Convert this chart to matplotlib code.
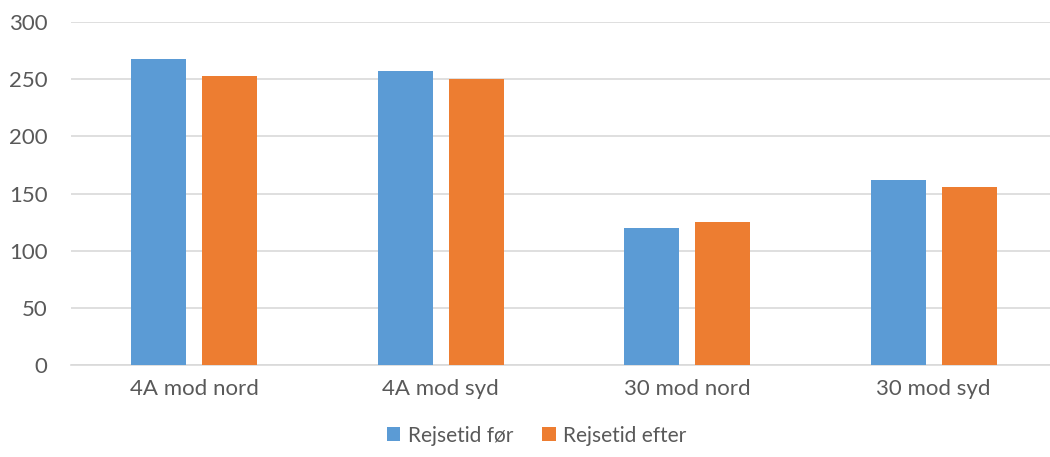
import matplotlib.pyplot as plt
import numpy as np

# Travel times per route, before and after
routes = ['4A mod nord', '4A mod syd', '30 mod nord', '30 mod syd']
reisetid_foer = [268, 257, 120, 162]
reisetid_efter = [253, 250, 125, 156]
series_names = ['Rejsetid før', 'Rejsetid efter']

plt.rcParams['font.family'] = ['Lato', 'DejaVu Sans']
text_color = '#595959'
fs = 16

fig = plt.figure(figsize=(10.5, 4.57), dpi=100)
# plot area runs a little past the right edge of the figure
ax = fig.add_axes([0.0676, 0.2007, 0.939, 0.7513])

x = np.arange(len(routes))
w = 0.223
off = w / 2 + 0.032
ax.bar(x - off, reisetid_foer, w, color='#5B9BD5', label=series_names[0], zorder=3)
ax.bar(x + off, reisetid_efter, w, color='#ED7D31', label=series_names[1], zorder=3)

ax.set_xlim(-0.5, len(routes) - 0.5)
ax.set_ylim(0, 300)
ax.set_yticks(range(0, 301, 50))
ax.set_xticks(x)
ax.set_xticklabels(routes)
ax.grid(axis='y', color='#D9D9D9', linewidth=1.2, zorder=0)
for s in ['top', 'right', 'left']:
    ax.spines[s].set_visible(False)
ax.spines['bottom'].set_color('#D9D9D9')
ax.spines['bottom'].set_linewidth(1.2)
ax.tick_params(axis='both', length=0, labelsize=fs, colors=text_color)
ax.tick_params(axis='x', pad=10)
ax.tick_params(axis='y', pad=17)

leg = fig.legend(loc='lower center', bbox_to_anchor=(0.511, -0.016), ncol=2, frameon=False,
                 fontsize=15, handlelength=0.65, handleheight=0.65, handletextpad=0.35,
                 columnspacing=1.4)
for t in leg.get_texts():
    t.set_color(text_color)

fig.savefig('out.png', dpi=100)
